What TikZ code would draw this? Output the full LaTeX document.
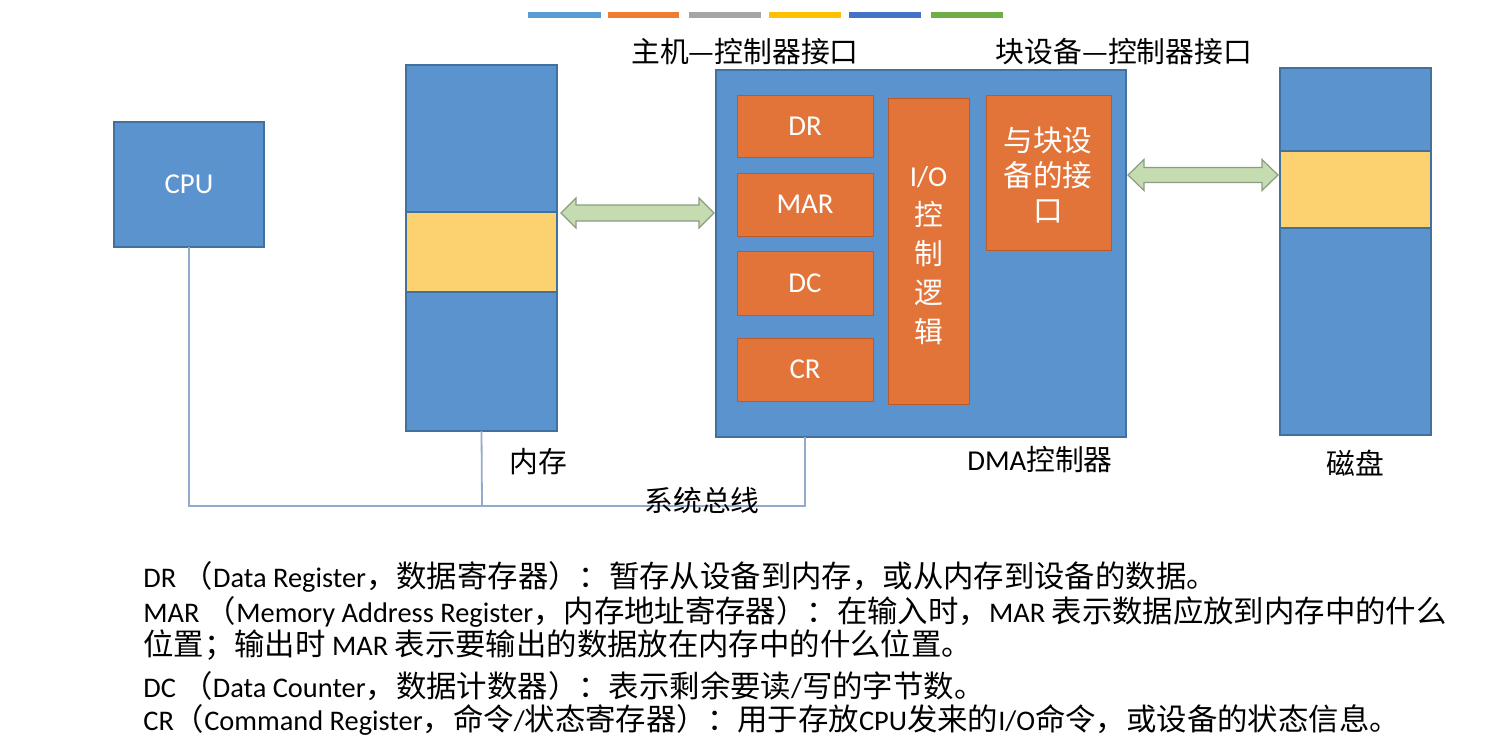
\documentclass[tikz,border=0pt]{standalone}
\usepackage{fontspec}
\setmainfont{Carlito}
\newfontfamily\cj{Noto Sans CJK SC}
\newfontfamily\cjn{Noto Sans CJK SC}[Scale=1.07]
\usetikzlibrary{fit}
\definecolor{bfill}{HTML}{5A93CD}
\definecolor{bline}{HTML}{41719C}
\definecolor{ofill}{HTML}{E2743A}
\definecolor{oline}{HTML}{B95A28}
\definecolor{yfill}{HTML}{FBD26F}
\definecolor{gfill}{HTML}{C5DCB1}
\definecolor{gline}{HTML}{8C9C84}
\definecolor{busc}{HTML}{94AACB}
\definecolor{c1}{HTML}{5B9BD5}
\definecolor{c2}{HTML}{ED7D31}
\definecolor{c3}{HTML}{A5A5A5}
\definecolor{c4}{HTML}{FFC000}
\definecolor{c5}{HTML}{4472C4}
\definecolor{c6}{HTML}{70AD47}
\tikzset{
  bluebox/.style={draw=bline, fill=bfill, line width=0.6pt, inner sep=0pt, outer sep=0pt},
  orangebox/.style={draw=oline, fill=ofill, line width=0.5pt, inner sep=0pt, outer sep=0pt},
  boxtxt/.style={text=white, inner sep=0pt, font=\fontsize{14.4}{17}\selectfont},
  yellowband/.style={draw=bline, fill=yfill, line width=0.6pt, inner sep=0pt, outer sep=0pt},
  dblarrow/.style={draw=gline, fill=gfill, line width=0.6pt, line join=miter},
  bus/.style={draw=busc, line width=0.9pt},
  lbl/.style={font=\cj\fontsize{14.4}{17}\selectfont, inner sep=0pt},
  note/.style={anchor=west, inner sep=0pt, font=\fontsize{14.2}{16}\selectfont},
  bar/.style={line width=3pt}
}
\begin{document}
\begin{tikzpicture}[x=0.5pt, y=-0.5pt]
\useasboundingbox (0,0) rectangle (1489,736);
% colour bar
\draw[bar, c1] (528,14.5) -- (601,14.5);
\draw[bar, c2] (608,14.5) -- (679,14.5);
\draw[bar, c3] (689,14.5) -- (761,14.5);
\draw[bar, c4] (769,14.5) -- (841,14.5);
\draw[bar, c5] (849,14.5) -- (921,14.5);
\draw[bar, c6] (931,14.5) -- (1003,14.5);
% CPU
\node[bluebox, fit={(114,122) (264,247)}] (cpu) {};
\node[boxtxt] (cputxt) at (cpu.center) {CPU};
% memory
\node[bluebox, fit={(406,65) (557,431)}] (mem) {};
\node[yellowband, fit={(406,212) (557,292)}] (memband) {};
% DMA controller
\node[bluebox, fit={(716,70) (1126,437)}] (dma) {};
\node[orangebox, fit={(737,95) (873,157)}] (dr) {};
\node[boxtxt] (drtxt) at (dr.center) {DR};
\node[orangebox, fit={(737,173) (873,236)}] (mar) {};
\node[boxtxt] (martxt) at (mar.center) {MAR};
\node[orangebox, fit={(737,251) (873,315)}] (dc) {};
\node[boxtxt] (dctxt) at (dc.center) {DC};
\node[orangebox, fit={(737,338) (873,401)}] (cr) {};
\node[boxtxt] (crtxt) at (cr.center) {CR};
\node[orangebox, fit={(888,98) (969,404)}] (iol) {};
\node[boxtxt, align=center, font=\fontsize{14.4}{19.5}\selectfont] (iotxt) at (928.5,256) {I/O\\{\cj 控}\\{\cj 制}\\{\cj 逻}\\{\cj 辑}};
\node[orangebox, fit={(986,95) (1111,250)}] (bif) {};
\node[boxtxt, align=center, font=\cj\fontsize{14.8}{17.5}\selectfont] (biftxt) at (1048,175) {与块设\\备的接\\口};
% disk
\node[bluebox, fit={(1280,68) (1431,435)}] (disk) {};
\node[yellowband, fit={(1280,151) (1431,228)}] (diskband) {};
% double arrows
\coordinate (a1L) at (561,213);
\coordinate (a1R) at (714,213);
\draw[dblarrow] (a1L) -- ++(15,-15) -- ++(0,7) -- ++(123,0) -- ++(0,-7) -- (a1R) -- ++(-15,15) -- ++(0,-7) -- ++(-123,0) -- ++(0,7) -- cycle;
\coordinate (a2L) at (1128,175);
\coordinate (a2R) at (1278,175);
\draw[dblarrow] (a2L) -- ++(16,-15.5) -- ++(0,8) -- ++(118,0) -- ++(0,-8) -- (a2R) -- ++(-16,15.5) -- ++(0,-8) -- ++(-118,0) -- ++(0,8) -- cycle;
% system bus
\coordinate (dmatap) at (805,437);
\coordinate (busL) at (189,506);
\coordinate (busM) at (482,506);
\coordinate (busR) at (805,506);
\draw[bus] (cpu.south) -- (busL) -- (busR) -- (dmatap);
\draw[bus] (mem.south) -- (busM);
% labels
\node[lbl] (hl) at (745,52) {主机—控制器接口};
\node[lbl] (bl) at (1124,52) {块设备—控制器接口};
\node[lbl] (meml) at (538,462) {内存};
\node[lbl, font=\fontsize{14.4}{17}\selectfont] (dmal) at (1040,460) {DMA{\cj 控制器}};
\node[lbl] (diskl) at (1355,463) {磁盘};
\node[lbl] (busl) at (702,500) {系统总线};
% notes
\node[note] (n1) at (143,577) {DR {\cjn （}Data Register{\cjn ，数据寄存器）：暂存从设备到内存，或从内存到设备的数据。}};
\node[note] (n2) at (143,612) {MAR {\cjn （}Memory Address Register{\cjn ，内存地址寄存器）：在输入时，}MAR {\cjn 表示数据应放到内存中的什么}};
\node[note] (n3) at (143,645) {{\cjn 位置；输出时} MAR {\cjn 表示要输出的数据放在内存中的什么位置。}};
\node[note] (n4) at (143,686) {DC {\cjn （}Data Counter{\cjn ，数据计数器）：表示剩余要读}/{\cjn 写的字节数。}};
\node[note] (n5) at (143,720) {CR{\cjn （}Command Register{\cjn ，命令}/{\cjn 状态寄存器）：用于存放}CPU{\cjn 发来的}I/O{\cjn 命令，或设备的状态信息。}};
\end{tikzpicture}
\end{document}
